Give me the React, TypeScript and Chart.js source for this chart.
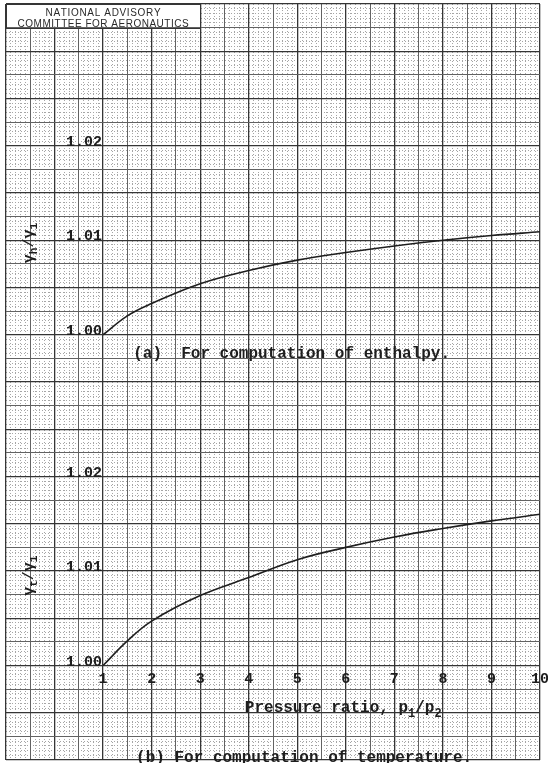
import React, { useEffect, useRef } from 'react';
import { Chart, registerables } from 'chart.js';

Chart.register(...registerables);

// ---- data ----
const pressureRatio = [1, 1.5, 2, 3, 4, 5, 6, 7, 8, 9, 10];
const gammaHRatio = [1.0, 1.002, 1.0033, 1.0054, 1.0068, 1.0079, 1.0087, 1.0094, 1.01, 1.0105, 1.0109];
const gammaTRatio = [1.0, 1.0026, 1.0047, 1.0074, 1.0093, 1.0112, 1.0125, 1.0136, 1.0145, 1.0153, 1.016];

const xTickValues = [1, 2, 3, 4, 5, 6, 7, 8, 9, 10];
const yTickValues = [1.0, 1.01, 1.02];
const yTickLabels = ['1.00', '1.01', '1.02'];

const headerLines = ['NATIONAL ADVISORY', 'COMMITTEE FOR AERONAUTICS'];
const captionA = '(a)  For computation of enthalpy.';
const captionB = '(b) For computation of temperature.';
type Part = { t: string; sub?: boolean };
const xTitleParts: Part[] = [{ t: 'Pressure ratio, p' }, { t: '1', sub: true }, { t: '/p' }, { t: '2', sub: true }];
const yTitleAParts: Part[] = [{ t: 'γ' }, { t: 'h', sub: true }, { t: '/γ' }, { t: '1', sub: true }];
const yTitleBParts: Part[] = [{ t: 'γ' }, { t: 't', sub: true }, { t: '/γ' }, { t: '1', sub: true }];

// ---- axis ranges (graph-paper page) ----
const X_MIN = -1;
const X_MAX = 10;
const YA_MIN = 0.955;
const YA_MAX = 1.035;
const YB_MIN = 0.99;
const YB_MAX = 1.07;

const INK = '#1e1e1e';
const DARK_GRID = '#353535';
const MID_GRID = '#626262';
const MINOR_GRID = '#a6a6a6';
const MONO = "'Liberation Mono', 'DejaVu Sans Mono', monospace";

const isMultiple = (v: number, step: number) => Math.abs(v / step - Math.round(v / step)) < 1e-6;

function drawParts(ctx: CanvasRenderingContext2D, parts: Part[], x: number, y: number, size: number, align: 'left' | 'center') {
  const main = `bold ${size}px ${MONO}`;
  const sub = `bold ${Math.round(size * 0.72)}px ${MONO}`;
  let total = 0;
  for (const p of parts) {
    ctx.font = p.sub ? sub : main;
    total += ctx.measureText(p.t).width;
  }
  let cx = align === 'center' ? x - total / 2 : x;
  ctx.textAlign = 'left';
  ctx.textBaseline = 'alphabetic';
  for (const p of parts) {
    ctx.font = p.sub ? sub : main;
    ctx.fillText(p.t, cx, p.sub ? y + size * 0.28 : y);
    cx += ctx.measureText(p.t).width;
  }
}

function drawSpaced(ctx: CanvasRenderingContext2D, text: string, cx: number, y: number, width: number) {
  const widths = Array.from(text).map((c) => ctx.measureText(c).width);
  const sum = widths.reduce((a, b) => a + b, 0);
  const extra = (width - sum) / (text.length - 1);
  let x = cx - width / 2;
  ctx.textAlign = 'left';
  Array.from(text).forEach((c, i) => {
    ctx.fillText(c, x, y);
    x += widths[i] + extra;
  });
}

const pagePlugin = {
  id: 'pageText',
  beforeDraw(chart: any) {
    const ctx = chart.ctx as CanvasRenderingContext2D;
    ctx.save();
    ctx.fillStyle = '#ffffff';
    ctx.fillRect(0, 0, chart.width, chart.height);
    ctx.restore();
  },
  afterDraw(chart: any) {
    const ctx = chart.ctx as CanvasRenderingContext2D;
    const sx = chart.scales.x;
    const sa = chart.scales.y;
    const sb = chart.scales.y2;
    const px = (v: number) => sx.getPixelForValue(v);
    ctx.save();

    // header box (white label on the graph paper)
    const l = px(-1);
    const r = px(3);
    const t = sa.getPixelForValue(YA_MAX);
    const b = sa.getPixelForValue(YA_MAX - 0.0025);
    ctx.fillStyle = '#ffffff';
    ctx.fillRect(l + 1, t + 1, r - l - 2, b - t - 2);
    ctx.strokeStyle = DARK_GRID;
    ctx.lineWidth = 1;
    ctx.strokeRect(Math.round(l) + 0.5, Math.round(t) + 0.5, Math.round(r - l), Math.round(b - t));
    ctx.fillStyle = '#2a2a2a';
    ctx.font = "10px 'Liberation Sans', 'DejaVu Sans', sans-serif";
    ctx.textBaseline = 'alphabetic';
    drawSpaced(ctx, headerLines[0], (l + r) / 2, t + 12, 115);
    drawSpaced(ctx, headerLines[1], (l + r) / 2, t + 22.5, 171);

    ctx.fillStyle = INK;
    // y tick labels, both panels
    ctx.font = `bold 15px ${MONO}`;
    ctx.textAlign = 'right';
    ctx.textBaseline = 'alphabetic';
    yTickValues.forEach((v, i) => {
      ctx.fillText(yTickLabels[i], px(1) - 1, sa.getPixelForValue(v));
      ctx.fillText(yTickLabels[i], px(1) - 1, sb.getPixelForValue(v));
    });

    // x tick labels (lower panel)
    ctx.textAlign = 'center';
    const xBase = sb.getPixelForValue(1.0) + 17;
    xTickValues.forEach((v) => {
      ctx.fillText(String(v), px(v), xBase);
    });

    // rotated y titles
    const titleX = px(-0.45);
    [
      { parts: yTitleAParts, y: sa.getPixelForValue(1.0097) },
      { parts: yTitleBParts, y: sb.getPixelForValue(1.0095) },
    ].forEach(({ parts, y }) => {
      ctx.save();
      ctx.translate(titleX, y);
      ctx.rotate(-Math.PI / 2);
      drawParts(ctx, parts, 0, 0, 15, 'center');
      ctx.restore();
    });

    // captions and x title
    ctx.font = `bold 16px ${MONO}`;
    ctx.textAlign = 'left';
    ctx.fillText(captionA, px(1.62), sa.getPixelForValue(0.99757));
    drawParts(ctx, xTitleParts, px(3.92), sb.getPixelForValue(0.99503), 16, 'left');
    ctx.font = `bold 16px ${MONO}`;
    ctx.textAlign = 'left';
    ctx.fillText(captionB, px(1.68), sb.getPixelForValue(0.9898));
    ctx.restore();
  },
};

export default function App() {
  const ref = useRef<HTMLCanvasElement>(null);

  useEffect(() => {
    if (!ref.current) return;
    const chart = new Chart(ref.current, {
      type: 'line',
      data: {
        datasets: [
          {
            label: 'γh/γ1',
            data: pressureRatio.map((x, i) => ({ x, y: gammaHRatio[i] })),
            xAxisID: 'x',
            yAxisID: 'y',
            borderColor: INK,
            borderWidth: 1.6,
            pointRadius: 0,
            tension: 0.4,
            fill: false,
          },
          {
            label: 'γt/γ1',
            data: pressureRatio.map((x, i) => ({ x, y: gammaTRatio[i] })),
            xAxisID: 'x',
            yAxisID: 'y2',
            borderColor: INK,
            borderWidth: 1.6,
            pointRadius: 0,
            tension: 0.4,
            fill: false,
          },
        ],
      },
      options: {
        responsive: false,
        animation: false,
        devicePixelRatio: 1,
        layout: { padding: { left: 6, right: 8, top: 4, bottom: 3 } },
        plugins: { legend: { display: false }, tooltip: { enabled: false } },
        scales: {
          xMinor: {
            type: 'linear',
            axis: 'x',
            position: 'bottom',
            min: X_MIN,
            max: X_MAX,
            ticks: { display: false, stepSize: 0.1 },
            grid: {
              drawTicks: false,
              lineWidth: 1,
              color: (c: any) => (isMultiple(c.tick.value, 0.5) ? 'rgba(0,0,0,0)' : MINOR_GRID),
            },
            border: { display: false, dash: [1, 2] },
          },
          yMinor: {
            type: 'linear',
            axis: 'y',
            position: 'left',
            min: YA_MIN,
            max: YA_MAX,
            ticks: { display: false, stepSize: 0.0005 },
            grid: {
              drawTicks: false,
              lineWidth: 1,
              color: (c: any) => (isMultiple(c.tick.value, 0.0025) ? 'rgba(0,0,0,0)' : MINOR_GRID),
            },
            border: { display: false, dash: [1, 2] },
          },
          x: {
            type: 'linear',
            position: 'bottom',
            min: X_MIN,
            max: X_MAX,
            ticks: { display: false, stepSize: 0.5 },
            grid: {
              drawTicks: false,
              lineWidth: (c: any) => (isMultiple(c.tick.value, 1) ? 1.3 : 1),
              color: (c: any) => (isMultiple(c.tick.value, 1) ? DARK_GRID : MID_GRID),
            },
            border: { display: false },
          },
          y: {
            type: 'linear',
            position: 'left',
            min: YA_MIN,
            max: YA_MAX,
            ticks: { display: false, stepSize: 0.0025 },
            grid: {
              drawTicks: false,
              lineWidth: (c: any) => (isMultiple(c.tick.value, 0.005) ? 1.3 : 1),
              color: (c: any) => (isMultiple(c.tick.value, 0.005) ? DARK_GRID : MID_GRID),
            },
            border: { display: false },
          },
          y2: {
            type: 'linear',
            position: 'left',
            min: YB_MIN,
            max: YB_MAX,
            display: false,
          },
        },
      } as any,
      plugins: [pagePlugin],
    });
    return () => chart.destroy();
  }, []);

  return (
    <div style={{ position: 'absolute', left: 0, top: 0, width: 548, height: 763, background: '#fff' }}>
      <canvas ref={ref} width={548} height={763} style={{ display: 'block', width: 548, height: 763 }} />
    </div>
  );
}
